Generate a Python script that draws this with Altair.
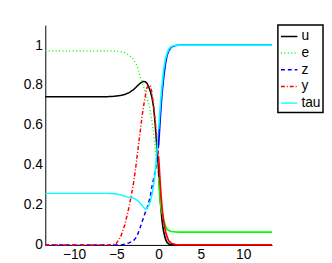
import altair as alt
import pandas as pd

series_names = ["u", "e", "z", "y", "tau"]
series_colors = ["#000000", "#00ff00", "#0000ff", "#ff0000", "#00ffff"]
series_dashes = [[1, 0], [1, 2.5], [4, 3], [4, 2, 1, 2], [1, 0]]

x_left = [-13.4, -6, -5.5, -5, -4.5, -4, -3.5, -3, -2.7, -2.5, -2.2, -2, -1.8,
          -1.6, -1.4, -1.2, -1.0, -0.8, -0.6, -0.4, -0.2, 0]
u_left = [0.742, 0.742, 0.743, 0.745, 0.748, 0.753, 0.762, 0.776, 0.788, 0.797, 0.808,
          0.814, 0.818, 0.817, 0.81, 0.795, 0.77, 0.74, 0.69, 0.60, 0.48, 0.37]
e_left = [0.97, 0.97, 0.97, 0.969, 0.967, 0.962, 0.95, 0.93, 0.91, 0.89, 0.84,
          0.82, 0.795, 0.765, 0.735, 0.71, 0.67, 0.62, 0.56, 0.48, 0.41, 0.34]
z_left = [0, 0, 0, 0, 0, 0.003, 0.01, 0.02, 0.035, 0.05, 0.085,
          0.11, 0.135, 0.16, 0.18, 0.21, 0.24, 0.29, 0.33, 0.37, 0.42, 0.5]
y_left = [0, 0, 0.001, 0.008, 0.04, 0.10, 0.19, 0.30, 0.39, 0.46, 0.56,
          0.63, 0.69, 0.74, 0.785, 0.80, 0.795, 0.765, 0.70, 0.62, 0.52, 0.44]
tau_left = [0.258, 0.258, 0.257, 0.255, 0.251, 0.244, 0.238, 0.235, 0.228, 0.222, 0.21,
            0.20, 0.19, 0.18, 0.182, 0.195, 0.215, 0.25, 0.295, 0.37, 0.47, 0.58]

x_right = [0, 0.1, 0.2, 0.3, 0.4, 0.5, 0.6, 0.8, 1.0, 1.2, 1.5, 2.0, 2.5, 3, 13.4]
u_right = [0.37, 0.30, 0.23, 0.17, 0.125, 0.09, 0.065, 0.03, 0.012, 0.005, 0.001, 0, 0, 0, 0]
e_right = [0.34, 0.27, 0.21, 0.18, 0.16, 0.145, 0.125, 0.095, 0.078, 0.072, 0.067, 0.065, 0.064, 0.064, 0.064]
z_right = [0.5, 0.57, 0.64, 0.70, 0.755, 0.80, 0.84, 0.905, 0.95, 0.972, 0.99, 0.998, 1, 1, 1]
y_right = [0.44, 0.37, 0.30, 0.24, 0.19, 0.15, 0.12, 0.07, 0.04, 0.02, 0.008, 0.002, 0, 0, 0]
tau_right = [0.58, 0.64, 0.70, 0.75, 0.80, 0.84, 0.88, 0.93, 0.96, 0.98, 0.993, 0.999, 1, 1, 1]

x_ticks = [-10, -5, 0, 5, 10]
y_ticks = [0, 0.2, 0.4, 0.6, 0.8, 1]

left_vals = [u_left, e_left, z_left, y_left, tau_left]
right_vals = [u_right, e_right, z_right, y_right, tau_right]

rows_l, rows_r = [], []
for i, name in enumerate(series_names):
    for xv, yv in zip(x_left, left_vals[i]):
        rows_l.append({"x": xv, "v": yv, "series": name, "k": i})
    for xv, yv in zip(x_right, right_vals[i]):
        rows_r.append({"x": xv, "v": yv, "series": name, "k": i})
df_l = pd.DataFrame(rows_l)
df_r = pd.DataFrame(rows_r)

xs = alt.Scale(domain=[-13.4, 13.4], nice=False, zero=False)
ys = alt.Scale(domain=[0, 1.1], nice=False)
cs = alt.Scale(domain=series_names, range=series_colors)
ds = alt.Scale(domain=series_names, range=series_dashes)

xax = alt.Axis(values=x_ticks, format="~r", title=None, grid=False, ticks=False, labelPadding=3)
yax = alt.Axis(values=y_ticks, format="~r", title=None, grid=False, ticks=False, labelPadding=3)

left = alt.Chart(df_l).mark_line(strokeWidth=1.5).encode(
    x=alt.X("x:Q", scale=xs, axis=xax),
    y=alt.Y("v:Q", scale=ys, axis=yax),
    color=alt.Color("series:N", scale=cs, sort=series_names, title=None),
    strokeDash=alt.StrokeDash("series:N", scale=ds, sort=series_names, title=None),
    detail="series:N",
)
right = alt.Chart(df_r).mark_line(strokeWidth=1.7).encode(
    x=alt.X("x:Q", scale=xs, axis=xax),
    y=alt.Y("v:Q", scale=ys, axis=yax),
    color=alt.Color("series:N", scale=cs, sort=series_names, title=None),
    detail="series:N",
)

chart = alt.layer(left, right).properties(
    width=231, height=224,
    autosize=alt.AutoSizeParams(type="none"),
    padding={"left": 38, "top": 15, "right": 53, "bottom": 17},
).configure_view(stroke=None).configure_axis(
    domainColor="black", domainWidth=1, labelColor="black",
    labelFont="Liberation Sans", labelFontSize=14,
).configure_legend(
    orient="none", legendX=237, legendY=0, strokeColor="black", fillColor="white",
    padding=2, symbolType="stroke", symbolSize=280, symbolStrokeWidth=1.5,
    labelFont="Liberation Sans", labelFontSize=14, labelColor="black",
    rowPadding=0, labelOffset=3, cornerRadius=0, strokeWidth=1.5,
)

chart.save("out.html", embed_options={"renderer": "svg", "actions": False})
